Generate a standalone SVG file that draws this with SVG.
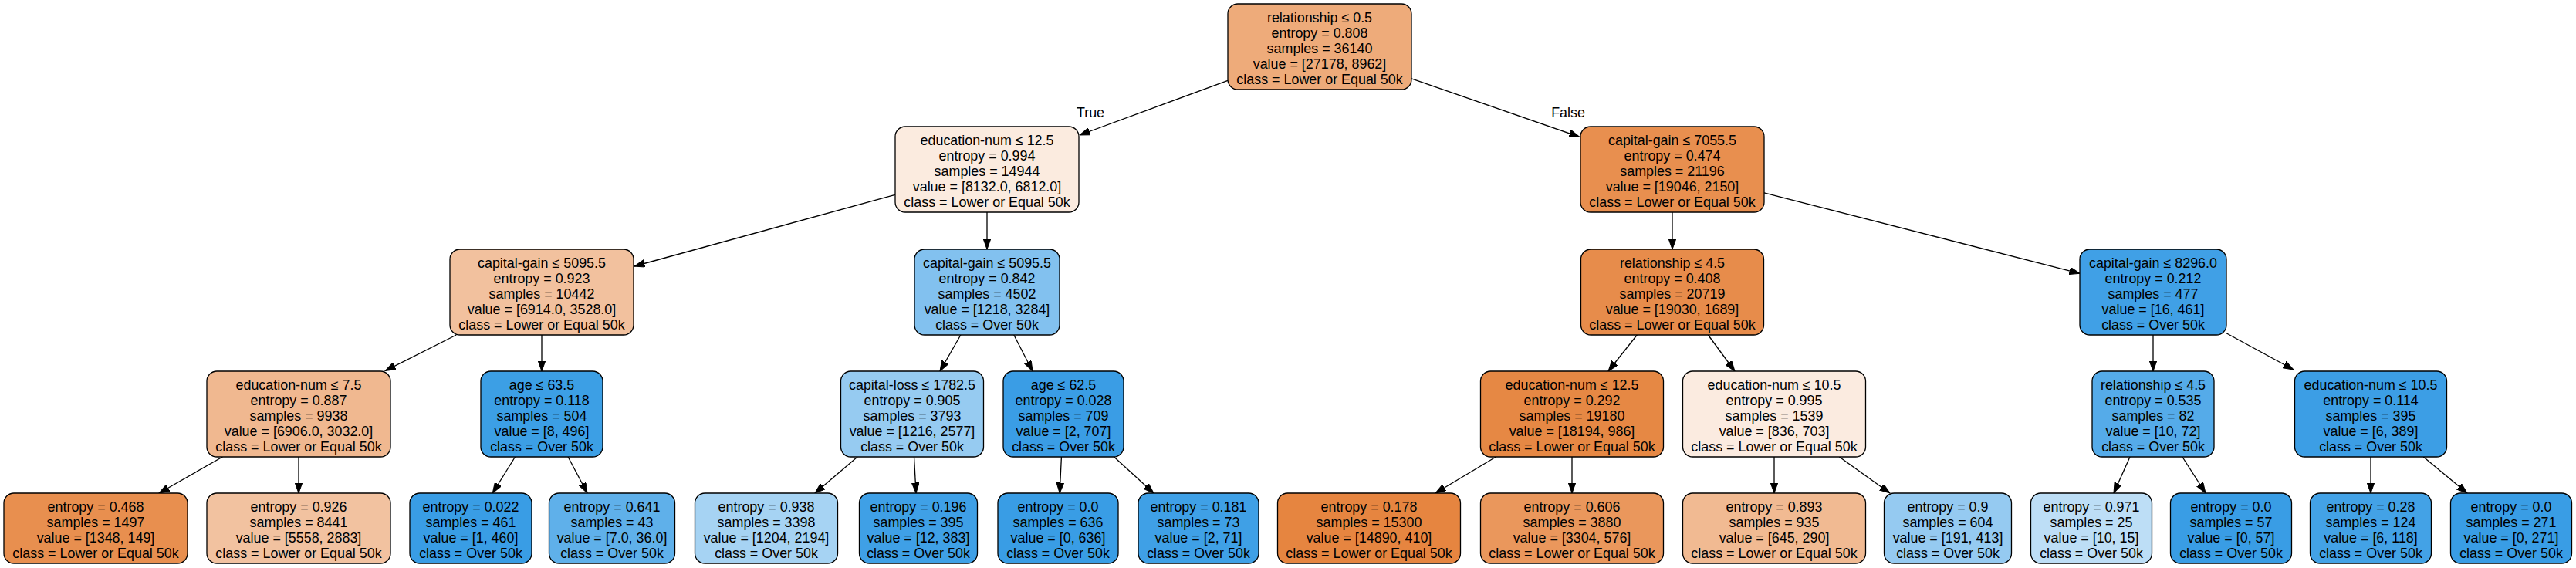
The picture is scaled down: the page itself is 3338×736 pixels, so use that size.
<svg xmlns="http://www.w3.org/2000/svg" width="3338" height="736" viewBox="0 0 3338 736">
<defs>
<style>
.bg{fill:#ffffff}
.n rect{stroke:#000;stroke-width:1.3}
text{font-family:"Liberation Sans",Arial,Helvetica,sans-serif;font-size:17.9px;text-anchor:middle;fill:#000}
.e line{stroke:#000;stroke-width:1.3;fill:none;marker-end:url(#arr)}
</style>
<marker id="arr" markerUnits="userSpaceOnUse" markerWidth="14" markerHeight="10" refX="13.5" refY="4.8" orient="auto">
<path d="M0,0 L13.5,4.8 L0,9.6 z" fill="#000" stroke="#000" stroke-width="1"/>
</marker>
</defs>
<rect class="bg" x="0" y="0" width="3338" height="736"/>
<g id="edges" class="e">
<line x1="1591" y1="104.4" x2="1399" y2="175"/>
<line x1="1829" y1="101.9" x2="2047" y2="177.5"/>
<line x1="1160" y1="252.3" x2="822" y2="345"/>
<line x1="1279" y1="275" x2="1279" y2="323"/>
<line x1="591.3" y1="434" x2="499" y2="480.5"/>
<line x1="702" y1="434" x2="702" y2="481"/>
<line x1="288.4" y1="592" x2="206" y2="639"/>
<line x1="387" y1="592" x2="387" y2="639"/>
<line x1="667.5" y1="592" x2="638.3" y2="639"/>
<line x1="736.1" y1="592" x2="761" y2="639"/>
<line x1="1244.9" y1="434" x2="1218" y2="481"/>
<line x1="1313.8" y1="434" x2="1338" y2="481"/>
<line x1="1111.1" y1="592" x2="1056" y2="639"/>
<line x1="1184.5" y1="592" x2="1187" y2="639"/>
<line x1="1375.4" y1="592" x2="1373.2" y2="639"/>
<line x1="1443.6" y1="592" x2="1495" y2="639"/>
<line x1="2167" y1="275" x2="2167" y2="323"/>
<line x1="2286" y1="249.9" x2="2695" y2="354.3"/>
<line x1="2121.3" y1="434" x2="2084" y2="481"/>
<line x1="2213.4" y1="434" x2="2248" y2="481"/>
<line x1="1938.4" y1="592" x2="1860" y2="639"/>
<line x1="2037" y1="592" x2="2037" y2="639"/>
<line x1="2299" y1="592" x2="2299" y2="639"/>
<line x1="2383.4" y1="592" x2="2449" y2="639"/>
<line x1="2790" y1="434" x2="2790" y2="481"/>
<line x1="2885" y1="431.7" x2="2972" y2="479"/>
<line x1="2760" y1="592" x2="2739" y2="639"/>
<line x1="2827.9" y1="592" x2="2858" y2="639"/>
<line x1="3072" y1="592" x2="3072" y2="639"/>
<line x1="3140.3" y1="592" x2="3197" y2="639"/>
<text x="1413" y="152">True</text>
<text x="2032" y="152">False</text>
</g>
<g id="n0" class="n"><rect x="1591" y="5" width="238" height="111" rx="13" fill="#eeab7a"/>
<text x="1710" y="29">relationship ≤ 0.5</text><text x="1710" y="49">entropy = 0.808</text><text x="1710" y="69">samples = 36140</text><text x="1710" y="89">value = [27178, 8962]</text><text x="1710" y="109">class = Lower or Equal 50k</text></g>
<g id="n1" class="n"><rect x="1160" y="164" width="238" height="111" rx="13" fill="#fbebdf"/>
<text x="1279" y="188">education-num ≤ 12.5</text><text x="1279" y="208">entropy = 0.994</text><text x="1279" y="228">samples = 14944</text><text x="1279" y="248">value = [8132.0, 6812.0]</text><text x="1279" y="268">class = Lower or Equal 50k</text></g>
<g id="n2" class="n"><rect x="583" y="323" width="238" height="111" rx="13" fill="#f2c19e"/>
<text x="702" y="347">capital-gain ≤ 5095.5</text><text x="702" y="367">entropy = 0.923</text><text x="702" y="387">samples = 10442</text><text x="702" y="407">value = [6914.0, 3528.0]</text><text x="702" y="427">class = Lower or Equal 50k</text></g>
<g id="n3" class="n"><rect x="268" y="481" width="238" height="111" rx="13" fill="#f0b890"/>
<text x="387" y="505">education-num ≤ 7.5</text><text x="387" y="525">entropy = 0.887</text><text x="387" y="545">samples = 9938</text><text x="387" y="565">value = [6906.0, 3032.0]</text><text x="387" y="585">class = Lower or Equal 50k</text></g>
<g id="n4" class="n"><rect x="5" y="639" width="238" height="91" rx="13" fill="#e88f4f"/>
<text x="124" y="663">entropy = 0.468</text><text x="124" y="683">samples = 1497</text><text x="124" y="703">value = [1348, 149]</text><text x="124" y="723">class = Lower or Equal 50k</text></g>
<g id="n5" class="n"><rect x="268" y="639" width="238" height="91" rx="13" fill="#f2c2a0"/>
<text x="387" y="663">entropy = 0.926</text><text x="387" y="683">samples = 8441</text><text x="387" y="703">value = [5558, 2883]</text><text x="387" y="723">class = Lower or Equal 50k</text></g>
<g id="n6" class="n"><rect x="623" y="481" width="158" height="111" rx="13" fill="#3c9fe5"/>
<text x="702" y="505">age ≤ 63.5</text><text x="702" y="525">entropy = 0.118</text><text x="702" y="545">samples = 504</text><text x="702" y="565">value = [8, 496]</text><text x="702" y="585">class = Over 50k</text></g>
<g id="n7" class="n"><rect x="531" y="639" width="158" height="91" rx="13" fill="#399de5"/>
<text x="610" y="663">entropy = 0.022</text><text x="610" y="683">samples = 461</text><text x="610" y="703">value = [1, 460]</text><text x="610" y="723">class = Over 50k</text></g>
<g id="n8" class="n"><rect x="711.5" y="639" width="163" height="91" rx="13" fill="#5fb0ea"/>
<text x="793" y="663">entropy = 0.641</text><text x="793" y="683">samples = 43</text><text x="793" y="703">value = [7.0, 36.0]</text><text x="793" y="723">class = Over 50k</text></g>
<g id="n9" class="n"><rect x="1185" y="323" width="188" height="111" rx="13" fill="#82c1ef"/>
<text x="1279" y="347">capital-gain ≤ 5095.5</text><text x="1279" y="367">entropy = 0.842</text><text x="1279" y="387">samples = 4502</text><text x="1279" y="407">value = [1218, 3284]</text><text x="1279" y="427">class = Over 50k</text></g>
<g id="n10" class="n"><rect x="1089.5" y="481" width="185" height="111" rx="13" fill="#96cbf1"/>
<text x="1182" y="505">capital-loss ≤ 1782.5</text><text x="1182" y="525">entropy = 0.905</text><text x="1182" y="545">samples = 3793</text><text x="1182" y="565">value = [1216, 2577]</text><text x="1182" y="585">class = Over 50k</text></g>
<g id="n11" class="n"><rect x="900.5" y="639" width="185" height="91" rx="13" fill="#a6d3f3"/>
<text x="993" y="663">entropy = 0.938</text><text x="993" y="683">samples = 3398</text><text x="993" y="703">value = [1204, 2194]</text><text x="993" y="723">class = Over 50k</text></g>
<g id="n12" class="n"><rect x="1113.5" y="639" width="153" height="91" rx="13" fill="#3fa0e6"/>
<text x="1190" y="663">entropy = 0.196</text><text x="1190" y="683">samples = 395</text><text x="1190" y="703">value = [12, 383]</text><text x="1190" y="723">class = Over 50k</text></g>
<g id="n13" class="n"><rect x="1300" y="481" width="156" height="111" rx="13" fill="#3a9de5"/>
<text x="1378" y="505">age ≤ 62.5</text><text x="1378" y="525">entropy = 0.028</text><text x="1378" y="545">samples = 709</text><text x="1378" y="565">value = [2, 707]</text><text x="1378" y="585">class = Over 50k</text></g>
<g id="n14" class="n"><rect x="1293" y="639" width="156" height="91" rx="13" fill="#399de5"/>
<text x="1371" y="663">entropy = 0.0</text><text x="1371" y="683">samples = 636</text><text x="1371" y="703">value = [0, 636]</text><text x="1371" y="723">class = Over 50k</text></g>
<g id="n15" class="n"><rect x="1475" y="639" width="156" height="91" rx="13" fill="#3fa0e6"/>
<text x="1553" y="663">entropy = 0.181</text><text x="1553" y="683">samples = 73</text><text x="1553" y="703">value = [2, 71]</text><text x="1553" y="723">class = Over 50k</text></g>
<g id="n16" class="n"><rect x="2048" y="164" width="238" height="111" rx="13" fill="#e88f4f"/>
<text x="2167" y="188">capital-gain ≤ 7055.5</text><text x="2167" y="208">entropy = 0.474</text><text x="2167" y="228">samples = 21196</text><text x="2167" y="248">value = [19046, 2150]</text><text x="2167" y="268">class = Lower or Equal 50k</text></g>
<g id="n17" class="n"><rect x="2048.5" y="323" width="237" height="111" rx="13" fill="#e78c4b"/>
<text x="2167" y="347">relationship ≤ 4.5</text><text x="2167" y="367">entropy = 0.408</text><text x="2167" y="387">samples = 20719</text><text x="2167" y="407">value = [19030, 1689]</text><text x="2167" y="427">class = Lower or Equal 50k</text></g>
<g id="n18" class="n"><rect x="1918.5" y="481" width="237" height="111" rx="13" fill="#e68844"/>
<text x="2037" y="505">education-num ≤ 12.5</text><text x="2037" y="525">entropy = 0.292</text><text x="2037" y="545">samples = 19180</text><text x="2037" y="565">value = [18194, 986]</text><text x="2037" y="585">class = Lower or Equal 50k</text></g>
<g id="n19" class="n"><rect x="1655.5" y="639" width="237" height="91" rx="13" fill="#e68540"/>
<text x="1774" y="663">entropy = 0.178</text><text x="1774" y="683">samples = 15300</text><text x="1774" y="703">value = [14890, 410]</text><text x="1774" y="723">class = Lower or Equal 50k</text></g>
<g id="n20" class="n"><rect x="1918.5" y="639" width="237" height="91" rx="13" fill="#ea975c"/>
<text x="2037" y="663">entropy = 0.606</text><text x="2037" y="683">samples = 3880</text><text x="2037" y="703">value = [3304, 576]</text><text x="2037" y="723">class = Lower or Equal 50k</text></g>
<g id="n21" class="n"><rect x="2180.5" y="481" width="237" height="111" rx="13" fill="#fbebe0"/>
<text x="2299" y="505">education-num ≤ 10.5</text><text x="2299" y="525">entropy = 0.995</text><text x="2299" y="545">samples = 1539</text><text x="2299" y="565">value = [836, 703]</text><text x="2299" y="585">class = Lower or Equal 50k</text></g>
<g id="n22" class="n"><rect x="2180.5" y="639" width="237" height="91" rx="13" fill="#f1ba92"/>
<text x="2299" y="663">entropy = 0.893</text><text x="2299" y="683">samples = 935</text><text x="2299" y="703">value = [645, 290]</text><text x="2299" y="723">class = Lower or Equal 50k</text></g>
<g id="n23" class="n"><rect x="2441.5" y="639" width="165" height="91" rx="13" fill="#95caf1"/>
<text x="2524" y="663">entropy = 0.9</text><text x="2524" y="683">samples = 604</text><text x="2524" y="703">value = [191, 413]</text><text x="2524" y="723">class = Over 50k</text></g>
<g id="n24" class="n"><rect x="2695" y="323" width="190" height="111" rx="13" fill="#40a0e6"/>
<text x="2790" y="347">capital-gain ≤ 8296.0</text><text x="2790" y="367">entropy = 0.212</text><text x="2790" y="387">samples = 477</text><text x="2790" y="407">value = [16, 461]</text><text x="2790" y="427">class = Over 50k</text></g>
<g id="n25" class="n"><rect x="2711" y="481" width="158" height="111" rx="13" fill="#55abe9"/>
<text x="2790" y="505">relationship ≤ 4.5</text><text x="2790" y="525">entropy = 0.535</text><text x="2790" y="545">samples = 82</text><text x="2790" y="565">value = [10, 72]</text><text x="2790" y="585">class = Over 50k</text></g>
<g id="n26" class="n"><rect x="2631.5" y="639" width="157" height="91" rx="13" fill="#bddef6"/>
<text x="2710" y="663">entropy = 0.971</text><text x="2710" y="683">samples = 25</text><text x="2710" y="703">value = [10, 15]</text><text x="2710" y="723">class = Over 50k</text></g>
<g id="n27" class="n"><rect x="2812.5" y="639" width="157" height="91" rx="13" fill="#399de5"/>
<text x="2891" y="663">entropy = 0.0</text><text x="2891" y="683">samples = 57</text><text x="2891" y="703">value = [0, 57]</text><text x="2891" y="723">class = Over 50k</text></g>
<g id="n28" class="n"><rect x="2973.5" y="481" width="197" height="111" rx="13" fill="#3c9ee5"/>
<text x="3072" y="505">education-num ≤ 10.5</text><text x="3072" y="525">entropy = 0.114</text><text x="3072" y="545">samples = 395</text><text x="3072" y="565">value = [6, 389]</text><text x="3072" y="585">class = Over 50k</text></g>
<g id="n29" class="n"><rect x="2993.5" y="639" width="157" height="91" rx="13" fill="#43a2e6"/>
<text x="3072" y="663">entropy = 0.28</text><text x="3072" y="683">samples = 124</text><text x="3072" y="703">value = [6, 118]</text><text x="3072" y="723">class = Over 50k</text></g>
<g id="n30" class="n"><rect x="3175.5" y="639" width="157" height="91" rx="13" fill="#399de5"/>
<text x="3254" y="663">entropy = 0.0</text><text x="3254" y="683">samples = 271</text><text x="3254" y="703">value = [0, 271]</text><text x="3254" y="723">class = Over 50k</text></g>
</svg>
